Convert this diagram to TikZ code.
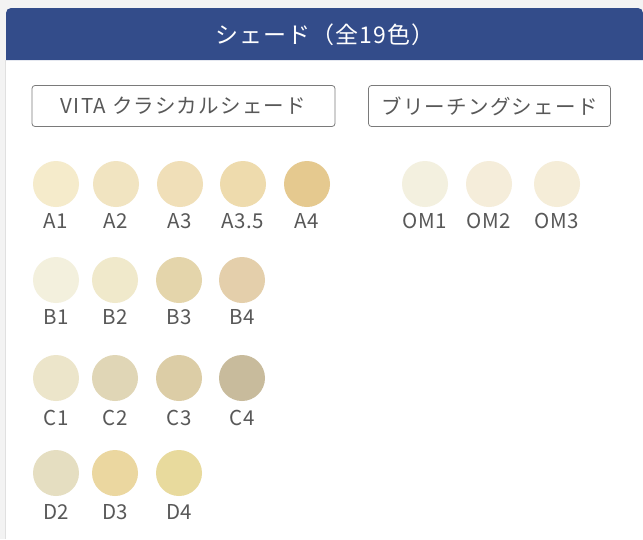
\documentclass[tikz,border=0pt]{standalone}
\usepackage{fontspec}
\setmainfont{Noto Sans CJK JP}
\newfontfamily\jpsp[LetterSpace=6]{Noto Sans CJK JP}
\newfontfamily\jptt[LetterSpace=5]{Noto Sans CJK JP}
\newfontfamily\jplb[LetterSpace=2]{Noto Sans CJK JP}
\definecolor{bgg}{HTML}{F3F3F3}
\definecolor{hdr}{HTML}{334C8A}
\definecolor{lbl}{HTML}{585858}
\definecolor{btn}{HTML}{7A7A7A}
\definecolor{cA1}{HTML}{F5EBCB}
\definecolor{cA2}{HTML}{F1E4C1}
\definecolor{cA3}{HTML}{F0DFB8}
\definecolor{cA35}{HTML}{EEDBAD}
\definecolor{cA4}{HTML}{E5C98F}
\definecolor{cB1}{HTML}{F3F0DD}
\definecolor{cB2}{HTML}{F0E9CB}
\definecolor{cB3}{HTML}{E4D5AB}
\definecolor{cB4}{HTML}{E4CFAB}
\definecolor{cC1}{HTML}{ECE5CA}
\definecolor{cC2}{HTML}{E0D6B6}
\definecolor{cC3}{HTML}{DCCDA6}
\definecolor{cC4}{HTML}{C8BB9C}
\definecolor{cD2}{HTML}{E5DEC1}
\definecolor{cD3}{HTML}{EBD7A0}
\definecolor{cD4}{HTML}{E8DA9D}
\definecolor{cOM1}{HTML}{F3F0DF}
\definecolor{cOM2}{HTML}{F5EDDA}
\definecolor{cOM3}{HTML}{F5EDD8}
\begin{document}
\begin{tikzpicture}[x=1pt,y=-1pt,
  swatch/.style={circle,minimum size=46pt,inner sep=0pt,draw=none},
  lab/.style={text=lbl,font=\jplb\fontsize{20.5}{20.5}\selectfont,inner sep=0pt,anchor=center},
  tab/.style={draw=btn,line width=0.8pt,rounded corners=3pt,text=lbl,font=\jpsp\fontsize{20.5}{20.5}\selectfont,inner sep=0pt,minimum height=41pt}]
\useasboundingbox (0,0) rectangle (643,539);
\fill[bgg] (0,0) rectangle (643,539);
\fill[white] (6,60) rectangle (643,539);
\draw[black!12,line width=0.6pt] (5.7,60) -- (5.7,539);
\fill[hdr,rounded corners=5pt] (6,60) -- (6,8) -- (643,8) [sharp corners] -- (643,60) -- cycle;
\node[text=white,font=\jptt\fontsize{23}{23}\selectfont,inner sep=0pt] (title) at (325,35) {シェード（全19色）};
\node[tab,minimum width=303pt] (vita) at (183.5,106) {VITA クラシカルシェード};
\node[tab,minimum width=242pt] (bl) at (489.5,106) {ブリーチングシェード};
% row A
\foreach \n/\c/\x in {A1/cA1/56,A2/cA2/116,A3/cA3/180,A3.5/cA35/243,A4/cA4/307}{
  \node[swatch,fill=\c] (s\n) at (\x,184) {};
  \node[lab] (l\n) at (\x,221) {\n};
}
\foreach \n/\c/\x in {B1/cB1/56,B2/cB2/115,B3/cB3/179,B4/cB4/242}{
  \node[swatch,fill=\c] (s\n) at (\x,280) {};
  \node[lab] (l\n) at (\x,317) {\n};
}
\foreach \n/\c/\x in {C1/cC1/56,C2/cC2/115,C3/cC3/179,C4/cC4/242}{
  \node[swatch,fill=\c] (s\n) at (\x,378) {};
  \node[lab] (l\n) at (\x,418) {\n};
}
\foreach \n/\c/\x in {D2/cD2/56,D3/cD3/115,D4/cD4/179}{
  \node[swatch,fill=\c] (s\n) at (\x,473) {};
  \node[lab] (l\n) at (\x,512) {\n};
}
\foreach \n/\c/\x in {OM1/cOM1/425,OM2/cOM2/489,OM3/cOM3/557}{
  \node[swatch,fill=\c] (s\n) at (\x,184) {};
  \node[lab] (l\n) at (\x,221) {\n};
}
\end{tikzpicture}
\end{document}
